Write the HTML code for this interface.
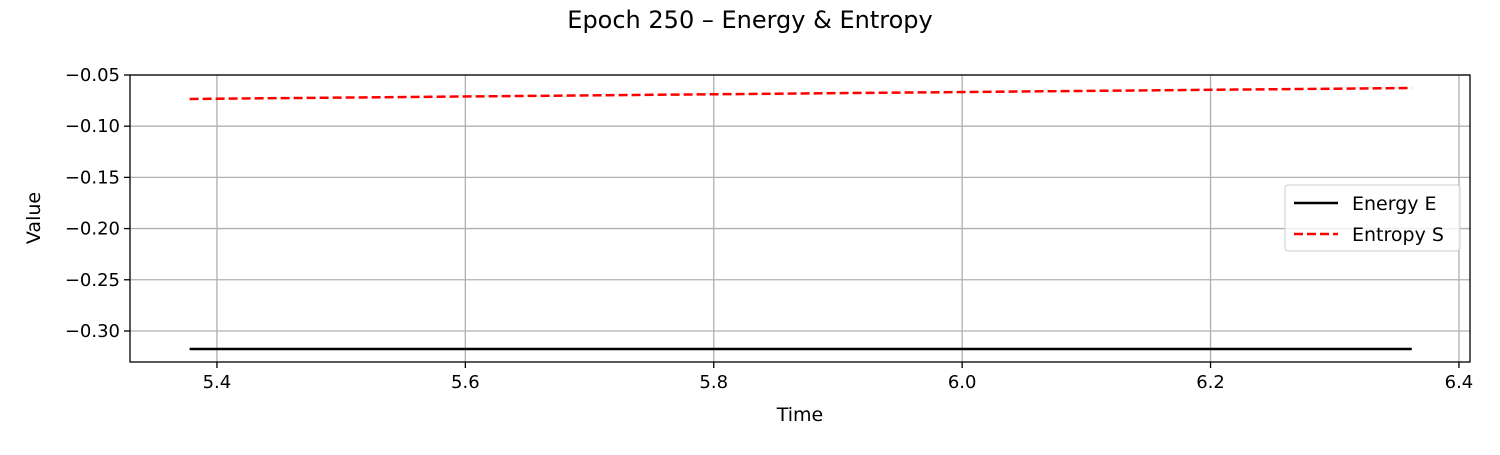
<!DOCTYPE html>
<html><head><meta charset="utf-8"><style>
body{margin:0;background:#fff;}
svg text{font-family:"DejaVu Sans","Liberation Sans",sans-serif;fill:#000;}
</style></head><body>
<svg id="chart" width="1500" height="450" viewBox="0 0 1500 450">
<text x="750" y="28" font-size="24" text-anchor="middle">Epoch 250 – Energy &amp; Entropy</text>
<g id="grid"></g>
<g id="axes"></g>
<g id="series"></g>
<rect x="130" y="75" width="1340" height="287" fill="none" stroke="#000" stroke-width="1.3"/>
<text x="800" y="421" font-size="19" text-anchor="middle">Time</text>
<text x="40" y="218" font-size="19" text-anchor="middle" transform="rotate(-90 40 218)">Value</text>
<g>
<rect x="1285" y="185" width="175" height="66" rx="3" fill="#fff" fill-opacity="0.8" stroke="#ccc"/>
<line x1="1294" y1="203" x2="1338" y2="203" stroke="#000" stroke-width="2.5"/>
<text x="1352" y="210" font-size="19">Energy E</text>
<line x1="1294" y1="234" x2="1338" y2="234" stroke="#f00" stroke-width="2.5" stroke-dasharray="9,4"/>
<text x="1352" y="241" font-size="19">Entropy S</text>
</g>
</svg>
<script>
const xTicks=[5.4,5.6,5.8,6.0,6.2,6.4];
const xTickLabels=["5.4","5.6","5.8","6.0","6.2","6.4"];
const yTicks=[-0.05,-0.10,-0.15,-0.20,-0.25,-0.30];
const yTickLabels=["\u22120.05","\u22120.10","\u22120.15","\u22120.20","\u22120.25","\u22120.30"];
const times=[5.378,6.362];
const energy=[-0.3176,-0.3176];
const entropy=[-0.0734,-0.0627];
const X0=5.33,X1=6.4089,Y0=-0.3303,Y1=-0.05;
const L=130,R=1470,T=75,B=362;
const sx=v=>L+(v-X0)/(X1-X0)*(R-L);
const sy=v=>B-(v-Y0)/(Y1-Y0)*(B-T);
const NS="http://www.w3.org/2000/svg";
function mk(tag,attrs,parent){const e=document.createElementNS(NS,tag);for(const k in attrs)e.setAttribute(k,attrs[k]);parent.appendChild(e);return e;}
const grid=document.getElementById('grid'),axes=document.getElementById('axes'),series=document.getElementById('series');
xTicks.forEach((t,i)=>{const x=sx(t);
 const g=mk('line',{x1:x,x2:x,y1:T,y2:B,stroke:'#b0b0b0','stroke-width':1.3},grid);
 
 
 const tk=mk('line',{x1:x,x2:x,y1:B,y2:B+6,stroke:'#000','stroke-width':1.3},axes);
 
 
 const tx=mk('text',{x:x,y:B+26,'font-size':18,'text-anchor':'middle'},axes);tx.textContent=xTickLabels[i];
 
 
});
yTicks.forEach((t,i)=>{const y=sy(t);
 const g=mk('line',{x1:L,x2:R,y1:y,y2:y,stroke:'#b0b0b0','stroke-width':1.3},grid);
 
 
 const tk=mk('line',{x1:L-6,x2:L,y1:y,y2:y,stroke:'#000','stroke-width':1.3},axes);
 
 
 const tx=mk('text',{x:L-10,y:y+6,'font-size':18,'text-anchor':'end'},axes);tx.textContent=yTickLabels[i];
 
 
});
const pts=a=>times.map((t,i)=>sx(t)+','+sy(a[i])).join(' ');
const e=mk('polyline',{points:pts(energy),fill:'none',stroke:'#000','stroke-width':2.5},series);


const s=mk('polyline',{points:pts(entropy),fill:'none',stroke:'#f00','stroke-width':2.5,'stroke-dasharray':'9,4'},series);


</script>
</body></html>
